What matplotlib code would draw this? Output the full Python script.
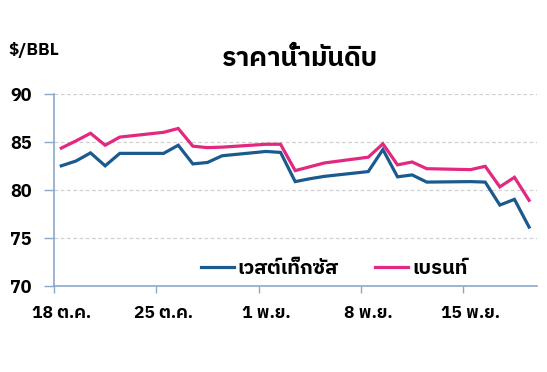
import matplotlib
matplotlib.use("Agg")
import matplotlib.pyplot as plt
import numpy as np
import pandas as pd

# ---- data ----
dates = ["2021-10-18", "2021-10-19", "2021-10-20", "2021-10-21", "2021-10-22",
         "2021-10-25", "2021-10-26", "2021-10-27", "2021-10-28", "2021-10-29",
         "2021-11-01", "2021-11-02", "2021-11-03", "2021-11-04", "2021-11-05",
         "2021-11-08", "2021-11-09", "2021-11-10", "2021-11-11", "2021-11-12",
         "2021-11-15", "2021-11-16", "2021-11-17", "2021-11-18", "2021-11-19"]
wti = [82.5, 83.0, 83.85, 82.5, 83.8,
       83.8, 84.65, 82.7, 82.85, 83.55,
       84.0, 83.9, 80.85, 81.15, 81.4,
       81.9, 84.2, 81.35, 81.55, 80.8,
       80.85, 80.8, 78.4, 79.0, 76.1]
brent = [84.35, 85.1, 85.9, 84.65, 85.5,
         86.0, 86.4, 84.55, 84.4, 84.45,
         84.75, 84.75, 82.0, 82.4, 82.8,
         83.4, 84.8, 82.6, 82.9, 82.2,
         82.1, 82.45, 80.3, 81.3, 78.9]
tick_dates = ["2021-10-18", "2021-10-25", "2021-11-01", "2021-11-08", "2021-11-15"]
tick_labels = ["18 ต.ค.", "25 ต.ค.", "1 พ.ย.", "8 พ.ย.", "15 พ.ย."]
series_names = ["เวสต์เท็กซัส", "เบรนท์"]
title = "ราคาน้ำมันดิบ"
unit = "$/BBL"

FONT = ["IBM Plex Sans Thai", "DejaVu Sans"]
plt.rcParams["font.family"] = FONT

blue = "#1b5a8e"
pink = "#e2287f"
spine_c = "#8ba8c6"

x = pd.to_datetime(dates) + pd.Timedelta(hours=12)

fig = plt.figure(figsize=(5.47, 3.72), dpi=100)
ax = fig.add_axes([0.0987, 0.2325, 0.8830, 0.5148])

ax.plot(x, wti, color=blue, lw=2.3, label=series_names[0], solid_joinstyle="miter")
ax.plot(x, brent, color=pink, lw=2.3, label=series_names[1], solid_joinstyle="miter")

ax.set_ylim(70, 90)
ax.set_yticks([70, 75, 80, 85, 90])
ax.set_xlim(pd.Timestamp("2021-10-18"), pd.Timestamp("2021-11-20 01:00"))

for v in [75, 80, 85, 90]:
    ax.axhline(v, color="#d0d0d0", lw=0.9, ls=(0, (3, 2)), zorder=0)

td = pd.to_datetime(tick_dates)
ax.set_xticks(td)
ax.set_xticklabels([""] * len(td))
ax.set_xticks(td + pd.Timedelta(hours=12), minor=True)
ax.set_xticklabels(tick_labels, minor=True, fontweight="bold", fontsize=12.5)
ax.tick_params(axis="x", which="minor", length=0, pad=15)
ax.tick_params(axis="x", which="major", length=5, width=1, color=spine_c, direction="out")
ax.tick_params(axis="y", length=7, width=1, color=spine_c, direction="out", pad=9)
for lab in ax.get_yticklabels():
    lab.set_fontweight("bold")
    lab.set_fontsize(13)

for s in ["top", "right"]:
    ax.spines[s].set_visible(False)
for s in ["left", "bottom"]:
    ax.spines[s].set_color(spine_c)
    ax.spines[s].set_linewidth(1.2)

leg = ax.legend(loc="lower center", bbox_to_anchor=(0.58, -0.055), ncol=2, frameon=False,
                handlelength=1.65, handletextpad=0.2, columnspacing=1.8,
                prop={"family": FONT, "weight": "bold", "size": 14.5})

fig.text(8 / 547, 1 - 50 / 372, unit, fontweight="bold", fontsize=12.5, va="center", ha="left")
fig.text(300 / 547, 1 - 59 / 372, title, fontweight="bold", fontsize=19, va="center", ha="center")

fig.savefig("out.png", dpi=100)
